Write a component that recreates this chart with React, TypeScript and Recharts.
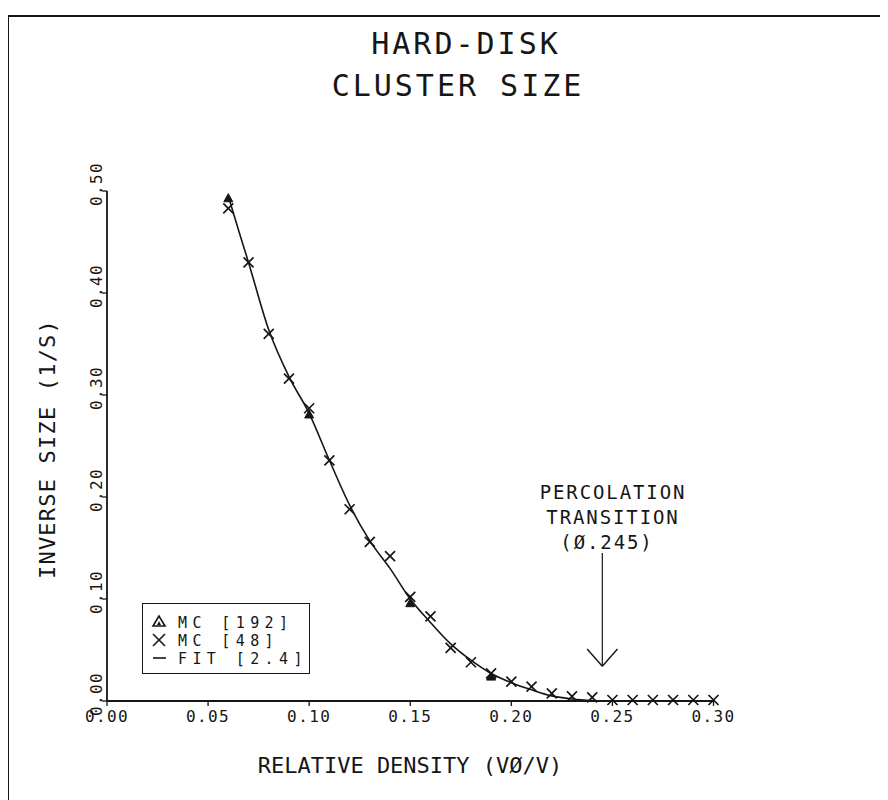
import React from "react";
import {
  ComposedChart,
  Line,
  Scatter,
  XAxis,
  YAxis,
  ReferenceLine,
  Legend,
} from "recharts";

// ---- data ----
const fitX = [0.06, 0.065, 0.07, 0.08, 0.09, 0.1, 0.11, 0.12, 0.13, 0.14, 0.15, 0.16, 0.17, 0.18, 0.19, 0.2, 0.21, 0.22, 0.23, 0.24, 0.25, 0.3];
const fitY = [0.495, 0.462, 0.43, 0.364, 0.318, 0.282, 0.236, 0.192, 0.157, 0.13, 0.1, 0.077, 0.056, 0.04, 0.027, 0.018, 0.011, 0.005, 0.002, 0.0005, 0, 0];

const mc48X = [0.06, 0.07, 0.08, 0.09, 0.1, 0.11, 0.12, 0.13, 0.14, 0.15, 0.16, 0.17, 0.18, 0.19, 0.2, 0.21, 0.22, 0.23, 0.24, 0.25, 0.26, 0.27, 0.28, 0.29, 0.3];
const mc48Y = [0.483, 0.43, 0.36, 0.316, 0.287, 0.236, 0.188, 0.156, 0.142, 0.102, 0.083, 0.052, 0.038, 0.027, 0.019, 0.014, 0.0075, 0.0045, 0.0035, 0.001, 0.001, 0.001, 0.001, 0.001, 0.001];

const mc192X = [0.06, 0.1, 0.15, 0.19];
const mc192Y = [0.493, 0.281, 0.096, 0.024];

const xTicks = [0, 0.05, 0.1, 0.15, 0.2, 0.25, 0.3];
const yTicks = [0, 0.1, 0.2, 0.3, 0.4, 0.5];

const transitionX = 0.245;
const arrowTopY = 0.145;
const arrowTipY = 0.034;
const arrowArmY = 0.051;
const arrowArmDx = 0.0075;

const titleLines = ["HARD-DISK", "CLUSTER SIZE"];
const annotationLines = ["PERCOLATION", "TRANSITION", "(Ø.245)"];
const xLabel = "RELATIVE DENSITY (VØ/V)";
const yLabel = "INVERSE SIZE (1/S)";
const legendItems = [
  { key: "mc192", label: "MC [192]" },
  { key: "mc48", label: "MC [48]" },
  { key: "fit", label: "FIT [2.4]" },
];

const fitData = fitX.map((x, i) => ({ x, y: fitY[i] }));
const mc48Data = mc48X.map((x, i) => ({ x, y: mc48Y[i] }));
const mc192Data = mc192X.map((x, i) => ({ x, y: mc192Y[i] }));

const INK = "#161616";
const FONT = "'DejaVu Sans Mono', 'Liberation Mono', monospace";

const CrossShape = (props: any) => {
  const { cx, cy } = props;
  if (cx == null || cy == null) return null;
  const r = 5;
  return (
    <g stroke={INK} strokeWidth={1.7}>
      <line x1={cx - r} y1={cy - r} x2={cx + r} y2={cy + r} />
      <line x1={cx - r} y1={cy + r} x2={cx + r} y2={cy - r} />
    </g>
  );
};

const TriangleShape = (props: any) => {
  const { cx, cy } = props;
  if (cx == null || cy == null) return null;
  const r = 4.5;
  return (
    <polygon
      points={`${cx},${cy - r} ${cx - r},${cy + r * 0.8} ${cx + r},${cy + r * 0.8}`}
      fill={INK}
      stroke={INK}
      strokeWidth={1}
    />
  );
};

const XTick = (props: any) => {
  const { x, y, payload } = props;
  return (
    <text
      x={x}
      y={y}
      dy={14}
      textAnchor="middle"
      fontFamily={FONT}
      fontSize={16}
      letterSpacing={1.4}
      fill={INK}
    >
      {Number(payload.value).toFixed(2)}
    </text>
  );
};

const YTick = (props: any) => {
  const { x, y, payload } = props;
  return (
    <text
      transform={`translate(${x + 2},${y - 7}) rotate(-90)`}
      textAnchor="middle"
      fontFamily={FONT}
      fontSize={16}
      letterSpacing={1.4}
      fill={INK}
    >
      {Number(payload.value).toFixed(2)}
    </text>
  );
};

const LegendContent = () => (
  <div
    style={{
      border: `1.3px solid ${INK}`,
      width: 168,
      height: 71,
      boxSizing: "border-box",
      position: "relative",
      background: "#fff",
    }}
  >
    <svg width={168} height={71} style={{ position: "absolute", left: 0, top: 0 }}>
      {legendItems.map((it, i) => {
        const cy = 18 + i * 18;
        const sx = 16;
        let sym = null;
        if (it.key === "mc192") {
          sym = (
            <g>
              <polygon points={`${sx},${cy - 6} ${sx - 6},${cy + 4} ${sx + 6},${cy + 4}`} fill="none" stroke={INK} strokeWidth={1.6} />
              <polygon points={`${sx},${cy - 1} ${sx - 2},${cy + 3} ${sx + 2},${cy + 3}`} fill={INK} />
            </g>
          );
        } else if (it.key === "mc48") {
          sym = (
            <g stroke={INK} strokeWidth={1.6}>
              <line x1={sx - 6} y1={cy - 6} x2={sx + 6} y2={cy + 6} />
              <line x1={sx - 6} y1={cy + 6} x2={sx + 6} y2={cy - 6} />
            </g>
          );
        } else {
          sym = <line x1={sx - 6} y1={cy} x2={sx + 7} y2={cy} stroke={INK} strokeWidth={1.6} />;
        }
        return (
          <g key={it.key}>
            {sym}
            <text x={35} y={cy + 5.5} fontFamily={FONT} fontSize={15} letterSpacing={5.4} fill={INK}>
              {it.label}
            </text>
          </g>
        );
      })}
    </svg>
  </div>
);

export default function App() {
  const W = 888;
  const H = 792;
  return (
    <div style={{ position: "relative", width: W, height: H, background: "#fff" }}>
      {/* page frame (top and left rules) */}
      <div style={{ position: "absolute", left: 0, top: 7, width: W, height: 0, borderTop: `2px solid ${INK}` }} />
      <div style={{ position: "absolute", left: 0, top: 7, width: 0, height: H - 7, borderLeft: `1.5px solid ${INK}` }} />

      <ComposedChart
        width={W}
        height={H}
        margin={{ top: 183, right: 182.5, bottom: 69, left: 39 }}
        style={{ position: "absolute", left: 0, top: 0 }}
      >
        <XAxis
          type="number"
          dataKey="x"
          domain={[0, 0.3]}
          ticks={xTicks}
          height={30}
          axisLine={{ stroke: INK, strokeWidth: 1.8 }}
          tickLine={{ stroke: INK, strokeWidth: 1.3 }}
          tickSize={5}
          tick={<XTick />}
          interval={0}
        />
        <YAxis
          type="number"
          dataKey="y"
          domain={[0, 0.5]}
          ticks={yTicks}
          width={60}
          axisLine={{ stroke: INK, strokeWidth: 1.8 }}
          tickLine={{ stroke: INK, strokeWidth: 1.3 }}
          tickSize={5}
          tick={<YTick />}
          interval={0}
        />
        <Line
          data={fitData}
          dataKey="y"
          type="monotone"
          stroke={INK}
          strokeWidth={1.6}
          dot={false}
          activeDot={false}
          isAnimationActive={false}
          legendType="line"
        />
        <Scatter data={mc48Data} dataKey="y" shape={<CrossShape />} isAnimationActive={false} />
        <Scatter data={mc192Data} dataKey="y" shape={<TriangleShape />} isAnimationActive={false} />
        <ReferenceLine
          segment={[{ x: transitionX, y: arrowTopY }, { x: transitionX, y: arrowTipY }]}
          stroke={INK}
          strokeWidth={1.2}
          ifOverflow="visible"
        />
        <ReferenceLine
          segment={[{ x: transitionX - arrowArmDx, y: arrowArmY }, { x: transitionX, y: arrowTipY }]}
          stroke={INK}
          strokeWidth={1.4}
          ifOverflow="visible"
        />
        <ReferenceLine
          segment={[{ x: transitionX + arrowArmDx, y: arrowArmY }, { x: transitionX, y: arrowTipY }]}
          stroke={INK}
          strokeWidth={1.4}
          ifOverflow="visible"
        />
        <Legend
          layout="vertical"
          align="center"
          verticalAlign="middle"
          content={<LegendContent />}
          wrapperStyle={{ left: 134, top: 595, width: 168, height: 71 }}
        />
      </ComposedChart>

      <svg
        width={W}
        height={H}
        style={{ position: "absolute", left: 0, top: 0, pointerEvents: "none" }}
      >
        <text x={458} y={46} textAnchor="middle" fontFamily={FONT} fontSize={30} letterSpacing={3} fill={INK}>
          {titleLines[0]}
        </text>
        <text x={450} y={88} textAnchor="middle" fontFamily={FONT} fontSize={30} letterSpacing={3} fill={INK}>
          {titleLines[1]}
        </text>
        <text x={402} y={765} textAnchor="middle" fontFamily={FONT} fontSize={22} fill={INK}>
          {xLabel}
        </text>
        <text
          transform={`translate(47,441) rotate(-90)`}
          textAnchor="middle"
          fontFamily={FONT}
          fontSize={22}
          letterSpacing={1.2}
          fill={INK}
        >
          {yLabel}
        </text>
        <text x={605} y={491} textAnchor="middle" fontFamily={FONT} fontSize={19} letterSpacing={1.9} fill={INK}>
          {annotationLines[0]}
        </text>
        <text x={605} y={516} textAnchor="middle" fontFamily={FONT} fontSize={19} letterSpacing={1.9} fill={INK}>
          {annotationLines[1]}
        </text>
        <text x={599} y={541} textAnchor="middle" fontFamily={FONT} fontSize={19} letterSpacing={1.9} fill={INK}>
          {annotationLines[2]}
        </text>
      </svg>
    </div>
  );
}
